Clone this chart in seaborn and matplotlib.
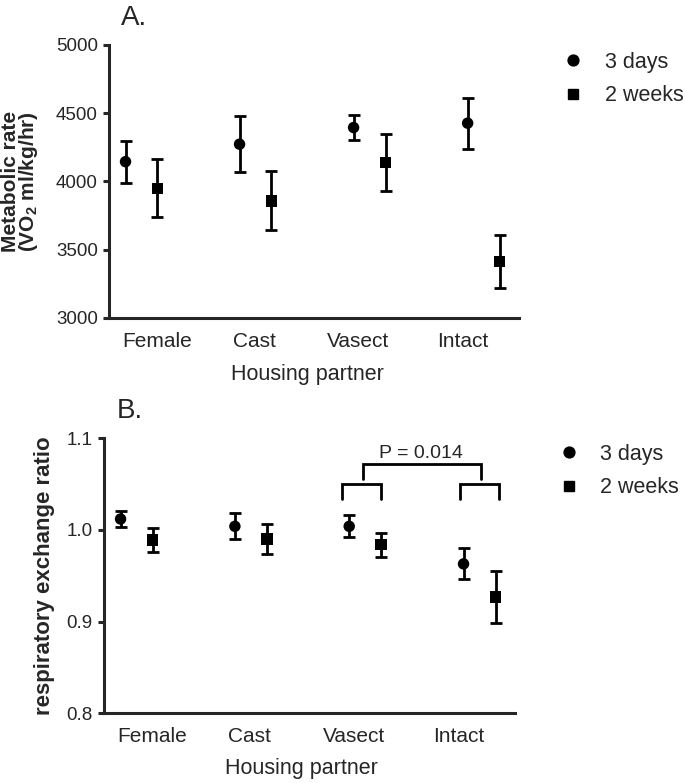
import numpy as np
import pandas as pd
import matplotlib
matplotlib.use('Agg')
import matplotlib.pyplot as plt
from matplotlib.lines import Line2D
import seaborn as sns

'''
Data (read off the figure)
'''

partners = ['Female', 'Cast', 'Vasect', 'Intact']
timepoints = ['3 days', '2 weeks']

# A. metabolic rate (VO2 ml/kg/hr), mean and error bar
vo2_3days = [4145, 4273, 4395, 4427]
vo2_3days_err = [154, 203, 92, 187]
vo2_2weeks = [3950, 3858, 4138, 3414]
vo2_2weeks_err = [212, 217, 208, 195]

# B. respiratory exchange ratio
rer_3days = [1.012, 1.004, 1.004, 0.963]
rer_3days_err = [0.009, 0.014, 0.012, 0.017]
rer_2weeks = [0.989, 0.990, 0.984, 0.927]
rer_2weeks_err = [0.013, 0.016, 0.013, 0.028]

vo2_ticks = [3000, 3500, 4000, 4500, 5000]
rer_ticks = [0.8, 0.9, 1.0, 1.1]

'''
Style
'''

sns.set_style('ticks')
plt.rcParams['font.family'] = ['Liberation Sans', 'DejaVu Sans']
plt.rcParams['mathtext.fontset'] = 'custom'
plt.rcParams['mathtext.rm'] = 'Liberation Sans'
plt.rcParams['mathtext.bf'] = 'Liberation Sans:bold'
plt.rcParams['mathtext.default'] = 'bf'

DODGE = 0.14
LABEL_POS = [0.14, 0.99, 1.9, 2.82]   # where the category names sit
XLIM = (-0.285, 3.31)
SPINE_W = 2.2


def long_frame(vals_3d, err_3d, vals_2w, err_2w):
    '''
    Builds a long data frame with one row per point, x position dodged by timepoint
    '''
    rows = []
    for i, p in enumerate(partners):
        rows.append({'partner': p, 'time': '3 days', 'xpos': i - DODGE,
                     'value': vals_3d[i], 'err': err_3d[i]})
        rows.append({'partner': p, 'time': '2 weeks', 'xpos': i + DODGE,
                     'value': vals_2w[i], 'err': err_2w[i]})
    return pd.DataFrame(rows)


def plot_panel(ax, df, yticks, ylabel, ylabel_x, ylabel_size, fmt=None):
    '''
    Draws the dodged mean +/- error points for one panel
    '''
    ax.errorbar(df['xpos'], df['value'], yerr=df['err'], fmt='none',
                ecolor='black', elinewidth=2, capsize=4.2, capthick=2, zorder=2)
    sns.scatterplot(data=df, x='xpos', y='value', style='time',
                    style_order=timepoints, markers={'3 days': 'o', '2 weeks': 's'},
                    color='black', s=68, linewidth=0, legend=False, ax=ax, zorder=3)

    ax.set_xlim(*XLIM)
    ax.set_ylim(yticks[0], yticks[-1])
    ax.set_yticks(yticks)
    if fmt:
        ax.set_yticklabels([fmt % t for t in yticks])
    ax.set_xticks(LABEL_POS)
    ax.set_xticklabels(partners)
    ax.tick_params(axis='x', length=0, pad=10, labelsize=15)
    ax.tick_params(axis='y', length=4.5, width=SPINE_W, pad=3.5, labelsize=13.5)
    sns.despine(ax=ax)
    for side in ['left', 'bottom']:
        ax.spines[side].set_linewidth(SPINE_W)

    ax.set_xlabel('Housing partner', fontsize=15.5)
    ax.set_ylabel(ylabel, fontsize=ylabel_size, fontweight='bold', linespacing=0.85)
    ax.yaxis.set_label_coords(ylabel_x, 0.5)


def add_legend(fig, x, y):
    handles = [Line2D([], [], marker='o', ls='none', color='black', markersize=7.8),
               Line2D([], [], marker='s', ls='none', color='black', markersize=7.5)]
    fig.legend(handles, timepoints, loc='upper left', bbox_to_anchor=(x, y),
               frameon=False, borderpad=0, borderaxespad=0, handlelength=1.0,
               handletextpad=0.95, labelspacing=0.58, fontsize=15.5)


def bracket(ax, x0, x1, y_low, y_top):
    ax.plot([x0, x0, x1, x1], [y_low, y_top, y_top, y_low], color='black',
            lw=2, solid_joinstyle='miter', clip_on=False)


'''
Figure
'''

fig = plt.figure(figsize=(6.85, 7.83), dpi=100)
ax_a = fig.add_axes([0.1591, 0.5939, 0.5985, 0.3487])
ax_b = fig.add_axes([0.1518, 0.0890, 0.6000, 0.3512])

df_a = long_frame(vo2_3days, vo2_3days_err, vo2_2weeks, vo2_2weeks_err)
df_b = long_frame(rer_3days, rer_3days_err, rer_2weeks, rer_2weeks_err)

plot_panel(ax_a, df_a, vo2_ticks, 'Metabolic rate\n(VO$_2$ ml/kg/hr)', -0.168, 15)
plot_panel(ax_b, df_b, rer_ticks, 'respiratory exchange ratio', -0.119, 16, fmt='%.1f')
ax_a.xaxis.set_label_coords(0.483, -0.168)
ax_b.xaxis.set_label_coords(0.480, -0.162)

# significance brackets in panel B
bracket(ax_b, 1.80, 2.14, 1.0335, 1.0498)
bracket(ax_b, 2.83, 3.17, 1.0335, 1.0498)
bracket(ax_b, 1.98, 3.01, 1.0556, 1.0717)
ax_b.text(2.49, 1.0829, 'P = 0.014', ha='center', va='center', fontsize=14)

fig.text(0.177, 0.968, 'A.', fontsize=20, va='baseline')
fig.text(0.171, 0.466, 'B.', fontsize=20, va='baseline')

add_legend(fig, 0.8212, 0.9340)
add_legend(fig, 0.8150, 0.4335)

fig.savefig('out.png', dpi=100)
